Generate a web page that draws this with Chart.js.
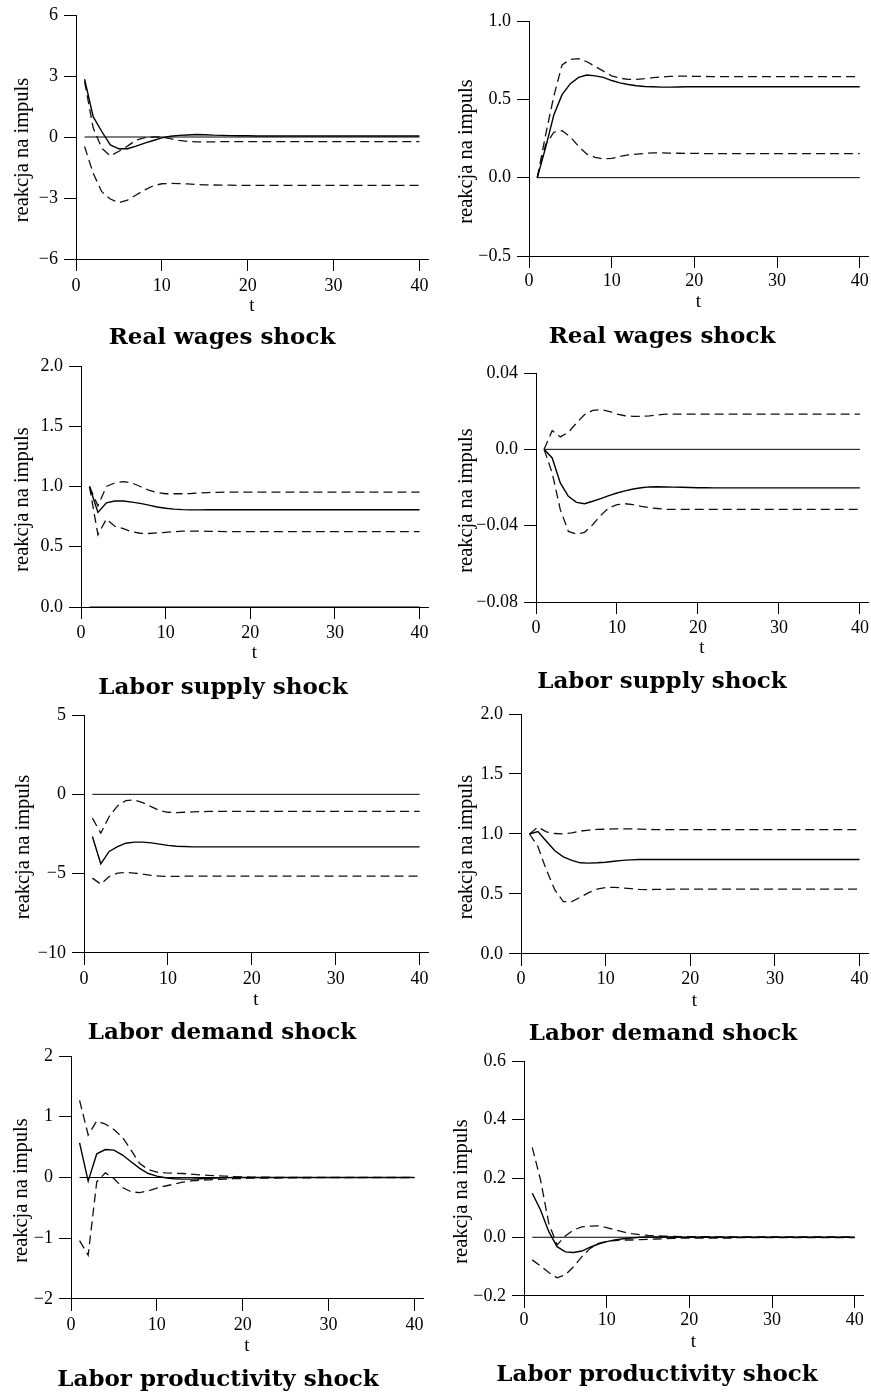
<!DOCTYPE html>
<html>
<head>
<meta charset="utf-8">
<script src="https://cdn.jsdelivr.net/npm/chart.js@4.4.1/dist/chart.umd.min.js"></script>
<style>
  html, body { margin: 0; padding: 0; background: #fff; width: 871px; height: 1395px; overflow: hidden; position: relative; }
  canvas { position: absolute; display: block; }
</style>
</head>
<body>
<script>
// horizon
var t = [1, 2, 3, 4, 5, 6, 7, 8, 9, 10, 11, 12, 13, 14, 15, 16, 17, 18, 19, 20,
         21, 22, 23, 24, 25, 26, 27, 28, 29, 30, 31, 32, 33, 34, 35, 36, 37, 38, 39, 40];
var xTicks = [0, 10, 20, 30, 40];

var titles = ["Real wages shock", "Real wages shock", "Labor supply shock", "Labor supply shock",
              "Labor demand shock", "Labor demand shock", "Labor productivity shock", "Labor productivity shock"];

// panel 1
var irf1 = [2.85, 1.00, 0.27, -0.39, -0.58, -0.58, -0.45, -0.30, -0.17, -0.04,
            0.04, 0.08, 0.10, 0.12, 0.11, 0.09, 0.08, 0.07, 0.06, 0.06,
            0.05, 0.05, 0.05, 0.05, 0.05, 0.05, 0.05, 0.05, 0.05, 0.05,
            0.05, 0.05, 0.05, 0.05, 0.05, 0.05, 0.05, 0.05, 0.05, 0.05];
var up1 = [2.73, 0.45, -0.55, -0.93, -0.70, -0.45, -0.15, -0.03, 0.00, 0.00,
           -0.08, -0.17, -0.22, -0.24, -0.24, -0.24, -0.23, -0.23, -0.23, -0.23,
           -0.23, -0.23, -0.23, -0.23, -0.23, -0.23, -0.23, -0.23, -0.23, -0.23,
           -0.23, -0.23, -0.23, -0.23, -0.23, -0.23, -0.23, -0.23, -0.23, -0.23];
var lo1 = [-0.47, -1.78, -2.69, -3.05, -3.23, -3.10, -2.85, -2.60, -2.40, -2.30,
           -2.28, -2.29, -2.31, -2.33, -2.35, -2.36, -2.37, -2.37, -2.38, -2.38,
           -2.38, -2.38, -2.38, -2.38, -2.38, -2.38, -2.38, -2.38, -2.38, -2.38,
           -2.38, -2.38, -2.38, -2.38, -2.38, -2.38, -2.38, -2.38, -2.38, -2.38];
var yTicks1 = [-6, -3, 0, 3, 6];
var yLabels1 = ["\u22126", "\u22123", "0", "3", "6"];

// panel 2
var irf2 = [0.00, 0.19, 0.40, 0.53, 0.60, 0.64, 0.655, 0.65, 0.64, 0.62,
            0.605, 0.595, 0.587, 0.582, 0.58, 0.578, 0.578, 0.579, 0.58, 0.58,
            0.58, 0.58, 0.58, 0.58, 0.58, 0.58, 0.58, 0.58, 0.58, 0.58,
            0.58, 0.58, 0.58, 0.58, 0.58, 0.58, 0.58, 0.58, 0.58, 0.58];
var up2 = [0.00, 0.27, 0.52, 0.72, 0.755, 0.76, 0.74, 0.71, 0.68, 0.65,
           0.635, 0.628, 0.628, 0.632, 0.638, 0.643, 0.646, 0.648, 0.648, 0.647,
           0.646, 0.645, 0.645, 0.645, 0.645, 0.645, 0.645, 0.645, 0.645, 0.645,
           0.645, 0.645, 0.645, 0.645, 0.645, 0.645, 0.645, 0.645, 0.645, 0.645];
var lo2 = [0.00, 0.21, 0.29, 0.30, 0.26, 0.20, 0.15, 0.13, 0.12, 0.123,
           0.135, 0.145, 0.15, 0.155, 0.158, 0.158, 0.157, 0.156, 0.155, 0.155,
           0.154, 0.154, 0.154, 0.153, 0.153, 0.153, 0.153, 0.153, 0.153, 0.153,
           0.153, 0.153, 0.153, 0.153, 0.153, 0.153, 0.153, 0.153, 0.153, 0.153];
var yTicks2 = [-0.5, 0, 0.5, 1.0];
var yLabels2 = ["\u22120.5", "0.0", "0.5", "1.0"];

// panel 3
var irf3 = [1.00, 0.785, 0.865, 0.88, 0.88, 0.87, 0.86, 0.845, 0.83, 0.82,
            0.812, 0.808, 0.806, 0.806, 0.807, 0.807, 0.807, 0.807, 0.807, 0.807,
            0.807, 0.807, 0.807, 0.807, 0.807, 0.807, 0.807, 0.807, 0.807, 0.807,
            0.807, 0.807, 0.807, 0.807, 0.807, 0.807, 0.807, 0.807, 0.807, 0.807];
var up3 = [1.00, 0.84, 1.00, 1.03, 1.04, 1.03, 1.00, 0.97, 0.95, 0.94,
           0.94, 0.94, 0.942, 0.946, 0.95, 0.952, 0.953, 0.953, 0.953, 0.953,
           0.953, 0.953, 0.953, 0.953, 0.953, 0.953, 0.953, 0.953, 0.953, 0.953,
           0.953, 0.953, 0.953, 0.953, 0.953, 0.953, 0.953, 0.953, 0.953, 0.953];
var lo3 = [1.00, 0.60, 0.73, 0.67, 0.65, 0.625, 0.612, 0.61, 0.615, 0.62,
           0.625, 0.63, 0.63, 0.63, 0.628, 0.627, 0.626, 0.625, 0.625, 0.625,
           0.625, 0.625, 0.625, 0.625, 0.625, 0.625, 0.625, 0.625, 0.625, 0.625,
           0.625, 0.625, 0.625, 0.625, 0.625, 0.625, 0.625, 0.625, 0.625, 0.625];
var yTicks3 = [0, 0.5, 1.0, 1.5, 2.0];
var yLabels3 = ["0.0", "0.5", "1.0", "1.5", "2.0"];

// panel 4
var irf4 = [0.0, -0.0045, -0.0176, -0.0246, -0.0278, -0.0285, -0.0272, -0.0258, -0.0243, -0.0229,
            -0.0218, -0.0208, -0.0201, -0.0197, -0.0196, -0.0197, -0.0198, -0.0199, -0.0200, -0.0201,
            -0.0201, -0.0202, -0.0202, -0.0202, -0.0202, -0.0202, -0.0202, -0.0202, -0.0202, -0.0202,
            -0.0202, -0.0202, -0.0202, -0.0202, -0.0202, -0.0202, -0.0202, -0.0202, -0.0202, -0.0202];
var up4 = [0.0, 0.0098, 0.0065, 0.0089, 0.0138, 0.0182, 0.0204, 0.0208, 0.0199, 0.0185,
           0.0176, 0.0173, 0.0173, 0.0175, 0.0180, 0.0184, 0.0185, 0.0185, 0.0185, 0.0185,
           0.0185, 0.0185, 0.0185, 0.0185, 0.0185, 0.0185, 0.0185, 0.0185, 0.0185, 0.0185,
           0.0185, 0.0185, 0.0185, 0.0185, 0.0185, 0.0185, 0.0185, 0.0185, 0.0185, 0.0185];
var lo4 = [0.0, -0.0124, -0.0316, -0.0430, -0.0444, -0.0435, -0.0395, -0.0346, -0.0307, -0.0290,
           -0.0285, -0.0290, -0.0299, -0.0306, -0.0310, -0.0314, -0.0315, -0.0315, -0.0315, -0.0315,
           -0.0315, -0.0315, -0.0315, -0.0315, -0.0315, -0.0315, -0.0315, -0.0315, -0.0315, -0.0315,
           -0.0315, -0.0315, -0.0315, -0.0315, -0.0315, -0.0315, -0.0315, -0.0315, -0.0315, -0.0315];
var yTicks4 = [-0.08, -0.04, 0, 0.04];
var yLabels4 = ["\u22120.08", "\u22120.04", "0.0", "0.04"];

// panel 5
var irf5 = [-2.66, -4.38, -3.60, -3.29, -3.08, -3.01, -3.01, -3.06, -3.14, -3.22,
            -3.27, -3.29, -3.31, -3.31, -3.31, -3.31, -3.31, -3.31, -3.31, -3.31,
            -3.31, -3.31, -3.31, -3.31, -3.31, -3.31, -3.31, -3.31, -3.31, -3.31,
            -3.31, -3.31, -3.31, -3.31, -3.31, -3.31, -3.31, -3.31, -3.31, -3.31];
var up5 = [-1.50, -2.45, -1.40, -0.73, -0.39, -0.35, -0.52, -0.77, -1.02, -1.13,
           -1.15, -1.13, -1.11, -1.09, -1.08, -1.08, -1.08, -1.08, -1.08, -1.08,
           -1.08, -1.08, -1.08, -1.08, -1.08, -1.08, -1.08, -1.08, -1.08, -1.08,
           -1.08, -1.08, -1.08, -1.08, -1.08, -1.08, -1.08, -1.08, -1.08, -1.08];
var lo5 = [-5.28, -5.66, -5.18, -4.96, -4.92, -4.96, -5.03, -5.11, -5.15, -5.18,
           -5.17, -5.16, -5.15, -5.15, -5.15, -5.15, -5.15, -5.15, -5.15, -5.15,
           -5.15, -5.15, -5.15, -5.15, -5.15, -5.15, -5.15, -5.15, -5.15, -5.15,
           -5.15, -5.15, -5.15, -5.15, -5.15, -5.15, -5.15, -5.15, -5.15, -5.15];
var yTicks5 = [-10, -5, 0, 5];
var yLabels5 = ["\u221210", "\u22125", "0", "5"];

// panel 6
var irf6 = [1.00, 1.02, 0.94, 0.86, 0.81, 0.78, 0.76, 0.757, 0.76, 0.765,
            0.773, 0.78, 0.784, 0.787, 0.788, 0.788, 0.787, 0.787, 0.787, 0.787,
            0.787, 0.787, 0.787, 0.787, 0.787, 0.787, 0.787, 0.787, 0.787, 0.787,
            0.787, 0.787, 0.787, 0.787, 0.787, 0.787, 0.787, 0.787, 0.787, 0.787];
var up6 = [1.00, 1.057, 1.018, 1.004, 1.00, 1.01, 1.024, 1.032, 1.038, 1.04,
           1.043, 1.043, 1.042, 1.04, 1.038, 1.037, 1.036, 1.036, 1.036, 1.036,
           1.036, 1.036, 1.036, 1.036, 1.036, 1.036, 1.036, 1.036, 1.036, 1.036,
           1.036, 1.036, 1.036, 1.036, 1.036, 1.036, 1.036, 1.036, 1.036, 1.036];
var lo6 = [1.00, 0.895, 0.70, 0.534, 0.437, 0.437, 0.473, 0.512, 0.54, 0.554,
           0.556, 0.55, 0.544, 0.538, 0.537, 0.538, 0.539, 0.54, 0.54, 0.54,
           0.54, 0.54, 0.54, 0.54, 0.54, 0.54, 0.54, 0.54, 0.54, 0.54,
           0.54, 0.54, 0.54, 0.54, 0.54, 0.54, 0.54, 0.54, 0.54, 0.54];
var yTicks6 = [0, 0.5, 1.0, 1.5, 2.0];
var yLabels6 = ["0.0", "0.5", "1.0", "1.5", "2.0"];

// panel 7
var irf7 = [0.57, -0.06, 0.39, 0.46, 0.45, 0.37, 0.26, 0.15, 0.066, 0.022,
            -0.005, -0.02, -0.027, -0.027, -0.02, -0.015, -0.01, -0.005, 0.0, 0.0,
            0.0, 0.0, 0.0, 0.0, 0.0, 0.0, 0.0, 0.0, 0.0, 0.0,
            0.0, 0.0, 0.0, 0.0, 0.0, 0.0, 0.0, 0.0, 0.0, 0.0];
var up7 = [1.27, 0.70, 0.93, 0.88, 0.79, 0.66, 0.45, 0.23, 0.13, 0.088,
           0.077, 0.071, 0.066, 0.055, 0.044, 0.035, 0.027, 0.022, 0.016, 0.01,
           0.006, 0.005, 0.004, 0.003, 0.003, 0.002, 0.002, 0.002, 0.001, 0.001,
           0.001, 0.001, 0.001, 0.001, 0.001, 0.001, 0.001, 0.001, 0.001, 0.001];
var lo7 = [-1.04, -1.28, -0.07, 0.077, -0.016, -0.164, -0.236, -0.25, -0.22, -0.175,
           -0.14, -0.11, -0.077, -0.055, -0.044, -0.038, -0.033, -0.027, -0.02, -0.016,
           -0.011, -0.011, -0.01, -0.008, -0.006, -0.005, -0.004, -0.004, -0.003, -0.003,
           -0.002, -0.002, -0.002, -0.002, -0.001, -0.001, -0.001, -0.001, -0.001, -0.001];
var yTicks7 = [-2, -1, 0, 1, 2];
var yLabels7 = ["\u22122", "\u22121", "0", "1", "2"];

// panel 8
var irf8 = [0.15, 0.093, 0.019, -0.032, -0.05, -0.052, -0.047, -0.034, -0.023, -0.015,
            -0.009, -0.005, -0.0025, 0.0, 0.001, 0.001, 0.001, 0.001, 0.0005, 0.0,
            0.0, 0.0, 0.0, 0.0, 0.0, 0.0, 0.0, 0.0, 0.0, 0.0,
            0.0, 0.0, 0.0, 0.0, 0.0, 0.0, 0.0, 0.0, 0.0, 0.0];
var up8 = [0.306, 0.195, 0.047, -0.026, 0.004, 0.025, 0.035, 0.038, 0.039, 0.033,
           0.025, 0.018, 0.012, 0.009, 0.0065, 0.005, 0.004, 0.003, 0.002, 0.002,
           0.002, 0.002, 0.0015, 0.0015, 0.001, 0.001, 0.001, 0.001, 0.001, 0.001,
           0.001, 0.001, 0.001, 0.001, 0.001, 0.001, 0.001, 0.001, 0.001, 0.001];
var lo8 = [-0.077, -0.098, -0.12, -0.138, -0.128, -0.1, -0.066, -0.038, -0.021, -0.014,
           -0.011, -0.0094, -0.0094, -0.008, -0.007, -0.006, -0.005, -0.004, -0.0025, -0.0025,
           -0.0025, -0.0025, -0.0025, -0.0025, -0.0025, -0.0015, -0.0015, -0.0015, -0.0015, -0.0015,
           -0.0015, -0.0015, -0.0015, -0.0015, -0.0015, -0.0015, -0.0015, -0.0015, -0.0015, -0.0015];
var yTicks8 = [-0.2, 0, 0.2, 0.4, 0.6];
var yLabels8 = ["\u22120.2", "0.0", "0.2", "0.4", "0.6"];

var panels = [
  {title: titles[0], irf: irf1, upper: up1, lower: lo1, yTicks: yTicks1, yLabels: yLabels1},
  {title: titles[1], irf: irf2, upper: up2, lower: lo2, yTicks: yTicks2, yLabels: yLabels2},
  {title: titles[2], irf: irf3, upper: up3, lower: lo3, yTicks: yTicks3, yLabels: yLabels3},
  {title: titles[3], irf: irf4, upper: up4, lower: lo4, yTicks: yTicks4, yLabels: yLabels4},
  {title: titles[4], irf: irf5, upper: up5, lower: lo5, yTicks: yTicks5, yLabels: yLabels5},
  {title: titles[5], irf: irf6, upper: up6, lower: lo6, yTicks: yTicks6, yLabels: yLabels6},
  {title: titles[6], irf: irf7, upper: up7, lower: lo7, yTicks: yTicks7, yLabels: yLabels7},
  {title: titles[7], irf: irf8, upper: up8, lower: lo8, yTicks: yTicks8, yLabels: yLabels8}
];

// where each panel sits on the page (px): plot box, tick label line, "t", title
var boxes = [
  {col: 0,   left: 76,  top: 15,   right: 428, bottom: 259,  tickY: 286,  tY: 306,  titleY: 338,  titleX: 222, yTitleX: 23},
  {col: 435, left: 529, top: 21,   right: 868, bottom: 256,  tickY: 281,  tY: 302,  titleY: 337,  titleX: 662, yTitleX: 467},
  {col: 0,   left: 81,  top: 366,  right: 428, bottom: 607,  tickY: 633,  tY: 653,  titleY: 688,  titleX: 223, yTitleX: 23},
  {col: 435, left: 536, top: 373,  right: 868, bottom: 602,  tickY: 628,  tY: 648,  titleY: 682,  titleX: 662, yTitleX: 467},
  {col: 0,   left: 84,  top: 715,  right: 428, bottom: 953,  tickY: 979,  tY: 1000, titleY: 1033, titleX: 222, yTitleX: 24},
  {col: 435, left: 521, top: 714,  right: 868, bottom: 954,  tickY: 979,  tY: 1001, titleY: 1034, titleX: 663, yTitleX: 467},
  {col: 0,   left: 71,  top: 1056, right: 423, bottom: 1299, tickY: 1325, tY: 1346, titleY: 1380, titleX: 218, yTitleX: 22},
  {col: 435, left: 524, top: 1061, right: 863, bottom: 1296, tickY: 1320, tY: 1342, titleY: 1375, titleX: 657, yTitleX: 462}
];

var TICK_FONT = {family: "'Liberation Serif', serif", size: 18, lineHeight: 1.2};
var T_FONT = {family: "'Liberation Serif', serif", size: 19, lineHeight: 1.2};
var TITLE_FONT = {family: "'DejaVu Serif', serif", size: 23, weight: "bold", lineHeight: 1.2};
var TICK_LEN = 12;
var DASH = [9, 5];

// rotated y-axis caption, drawn a little below the middle of the axis as in the original
var yTitlePlugin = {
  id: "yTitle",
  afterDraw: function(chart, args, opts) {
    var ctx = chart.ctx;
    ctx.save();
    ctx.translate(opts.x, opts.y);
    ctx.rotate(-Math.PI / 2);
    ctx.font = "20.5px 'Liberation Serif', serif";
    ctx.fillStyle = "#000";
    ctx.textAlign = "center";
    ctx.textBaseline = "middle";
    ctx.fillText(opts.text, 0, 0);
    ctx.restore();
  }
};

function pts(vals) {
  return vals.map(function(v, i) { return {x: t[i], y: v}; });
}

panels.forEach(function(p, k) {
  var b = boxes[k];
  var padT = 20, padR = 10;
  var padL = 2 * b.titleX - b.right - b.col;
  var yAxisW = b.left - b.col - padL;
  var cTop = b.top - padT;
  var cW = b.right + padR - b.col;
  var xBottom = b.tY + T_FONT.size * T_FONT.lineHeight / 2;
  var xAxisH = xBottom - b.bottom;
  var tickPad = b.tickY - b.bottom - TICK_LEN - TICK_FONT.size * TICK_FONT.lineHeight / 2;
  var titleLH = TITLE_FONT.size * TITLE_FONT.lineHeight;
  var titlePadTop = b.titleY - xBottom - titleLH / 2;
  var cH = Math.ceil(xBottom + titlePadTop + titleLH + 3 - cTop);
  var titlePadBottom = cH - (xBottom + titlePadTop + titleLH - cTop);

  var cv = document.createElement("canvas");
  cv.width = cW;
  cv.height = cH;
  cv.style.left = b.col + "px";
  cv.style.top = cTop + "px";
  cv.style.width = cW + "px";
  cv.style.height = cH + "px";
  document.body.appendChild(cv);

  var zero = [{x: t[0], y: 0}, {x: t[t.length - 1], y: 0}];

  new Chart(cv, {
    type: "line",
    data: {
      datasets: [
        {data: pts(p.irf), borderColor: "#000", borderWidth: 1.4, pointRadius: 0, fill: false, tension: 0},
        {data: pts(p.upper), borderColor: "#111", borderWidth: 1.3, borderDash: DASH, pointRadius: 0, fill: false, tension: 0},
        {data: pts(p.lower), borderColor: "#111", borderWidth: 1.3, borderDash: DASH, pointRadius: 0, fill: false, tension: 0},
        {data: zero, borderColor: "#000", borderWidth: 1, pointRadius: 0, fill: false}
      ]
    },
    options: {
      responsive: false,
      animation: false,
      devicePixelRatio: 1,
      events: [],
      layout: {padding: {left: padL, top: padT, right: padR, bottom: 0}},
      plugins: {
        legend: {display: false},
        tooltip: {enabled: false},
        title: {
          display: true,
          position: "bottom",
          text: p.title,
          color: "#000",
          font: TITLE_FONT,
          padding: {top: titlePadTop, bottom: titlePadBottom}
        },
        yTitle: {text: "reakcja na impuls", x: b.yTitleX - b.col, y: (b.top + b.bottom) / 2 + 13 - cTop}
      },
      scales: {
        x: {
          type: "linear",
          min: 0,
          max: 41,
          afterBuildTicks: function(s) { s.ticks = xTicks.map(function(v) { return {value: v}; }); },
          afterFit: function(s) { s.height = xAxisH; },
          grid: {drawOnChartArea: false, drawTicks: true, tickLength: TICK_LEN, color: "#000", lineWidth: 1},
          border: {display: true, color: "#000", width: 1},
          ticks: {color: "#000", font: TICK_FONT, padding: tickPad, maxRotation: 0, autoSkip: false},
          title: {display: true, text: "t", color: "#000", font: T_FONT, padding: 0}
        },
        y: {
          type: "linear",
          min: p.yTicks[0],
          max: p.yTicks[p.yTicks.length - 1],
          afterBuildTicks: function(s) { s.ticks = p.yTicks.map(function(v) { return {value: v}; }); },
          afterFit: function(s) { s.width = yAxisW; },
          grid: {drawOnChartArea: false, drawTicks: true, tickLength: TICK_LEN, color: "#000", lineWidth: 1},
          border: {display: true, color: "#000", width: 1},
          ticks: {
            color: "#000",
            font: TICK_FONT,
            padding: 6,
            autoSkip: false,
            callback: function(v, i) { return p.yLabels[i]; }
          }
        }
      }
    },
    plugins: [yTitlePlugin]
  });
});
</script>
</body>
</html>
